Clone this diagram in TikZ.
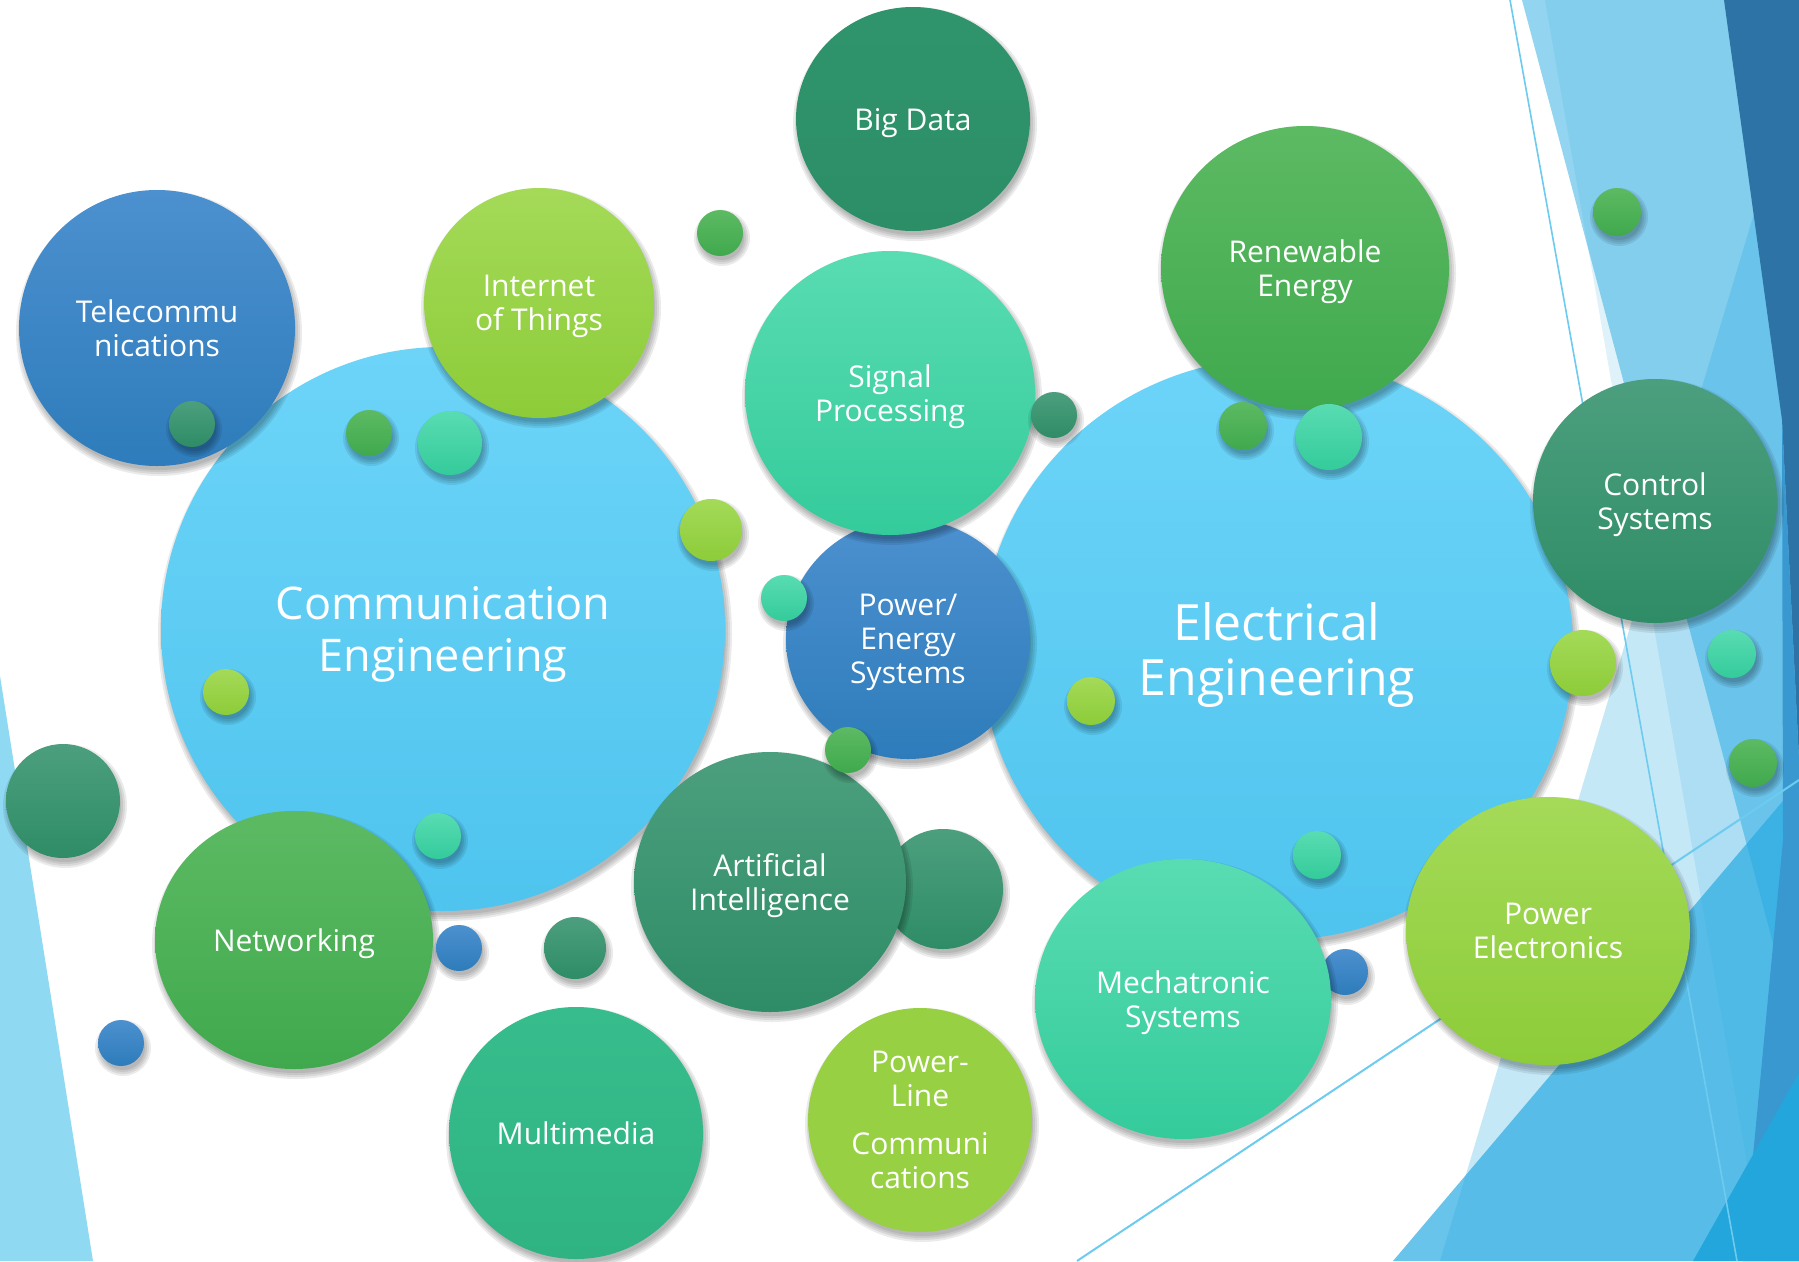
\documentclass[tikz,border=0pt]{standalone}
\usepackage{fontspec}
\setmainfont{Open Sans}
\usetikzlibrary{shapes.geometric}
\definecolor{cyanT}{HTML}{6DD4F8}
\definecolor{cyanB}{HTML}{4EC4EE}
\definecolor{blueT}{HTML}{4C90CF}
\definecolor{blueB}{HTML}{2E7CBB}
\definecolor{lgT}{HTML}{A4DA58}
\definecolor{lgB}{HTML}{8DCC39}
\definecolor{gT}{HTML}{5CBA63}
\definecolor{gB}{HTML}{40A94D}
\definecolor{dgT}{HTML}{4C9F7E}
\definecolor{dgB}{HTML}{2E8C66}
\definecolor{tT}{HTML}{59DCB2}
\definecolor{tB}{HTML}{34CB9B}
\definecolor{mmT}{HTML}{37BD8D}
\definecolor{mmB}{HTML}{2FB383}
\definecolor{bdT}{HTML}{2F946C}
\definecolor{bdB}{HTML}{2C8E67}
\definecolor{plc}{HTML}{97D042}
\definecolor{facet}{HTML}{29ABE2}
\definecolor{leftbg}{HTML}{8FD9F2}
\definecolor{darkbg}{HTML}{2E73A5}
\definecolor{midbg}{HTML}{3A98D0}
\definecolor{deepbg}{HTML}{22A6DC}
\definecolor{thinln}{HTML}{6CCBEF}
\tikzset{
  ball/.style={ellipse, inner sep=0pt, outer sep=0pt, draw=none, text=white,
    align=center, font=\fontsize{30}{34}\selectfont},
  cyanball/.style={ball, top color=cyanT, bottom color=cyanB},
  blueball/.style={ball, top color=blueT, bottom color=blueB},
  lgball/.style={ball, top color=lgT, bottom color=lgB},
  gball/.style={ball, top color=gT, bottom color=gB},
  dgball/.style={ball, top color=dgT, bottom color=dgB},
  tball/.style={ball, top color=tT, bottom color=tB},
  mmball/.style={ball, top color=mmT, bottom color=mmB},
  bdball/.style={ball, top color=bdT, bottom color=bdB},
  plball/.style={ball, fill=plc},
  bgtri/.style={draw=none},
}
\newcommand\nodepth[1]{\raisebox{0pt}[\height][0pt]{#1}}
\newcommand\mkball[7]{%
  \foreach \k in {-1,1,3,5}{\fill[black,opacity=.08] ({#2+2},{#3+5}) ellipse[x radius={#4+\k}, y radius={#5+\k}];}%
  \node[#6, minimum width={2*#4*1pt}, minimum height={2*#5*1pt}] (#1) at (#2,#3) {#7};}
\begin{document}
\begin{tikzpicture}[x=1pt,y=-1pt]
\useasboundingbox (0,0) rectangle (1799,1261);
\fill[white] (0,0) rectangle (1799,1261);
% background facets
\fill[bgtri, leftbg] (0,676) -- (93,1261) -- (0,1261) -- cycle;
\fill[bgtri, facet, fill opacity=.5] (1522,0) -- (1799,0) -- (1799,1041) -- cycle;
\fill[bgtri, facet, fill opacity=.15] (1545,0) -- (1799,0) -- (1799,1261) -- (1764,1261) -- cycle;
\fill[bgtri, facet, fill opacity=.27] (1818,0) -- (1440,1261) -- (1799,1261) -- (1799,0) -- cycle;
\fill[bgtri, facet, fill opacity=.7] (1393,1261) -- (1799,782) -- (1799,1261) -- cycle;
\fill[bgtri, darkbg] (1724,0) -- (1799,0) -- (1799,760) -- (1782,420) -- cycle;
\fill[bgtri, midbg] (1782,420) -- (1799,760) -- (1799,1261) -- (1743,1261) -- (1783,840) -- cycle;
\fill[bgtri, deepbg] (1693,1261) -- (1799,1073) -- (1799,1261) -- cycle;
\coordinate (la) at (1510,0); \coordinate (lb) at (1737,1261);
\coordinate (lc) at (1077,1261); \coordinate (ld) at (1799,780);
\draw[thinln, line width=1.6pt] (la) -- (lb);
\draw[thinln, line width=2pt] (lc) -- (ld);
% big circles
\mkball{comm}{443}{629}{282}{282}{cyanball, font=\fontsize{45}{52}\selectfont}{Communication\\\nodepth{Engineering}}
\mkball{elec}{1277}{649}{296}{291}{cyanball, font=\fontsize{50}{55}\selectfont}{Electrical\\\nodepth{Engineering}}
\mkball{lgreen}{63}{801}{57}{57}{dgball}{}
\mkball{tele}{157}{328}{138}{138}{blueball}{Telecommu\\\nodepth{nications}}
\mkball{iot}{539}{303}{115}{115}{lgball}{Internet\\\nodepth{of Things}}
\mkball{net}{294}{940}{139}{129}{gball}{\nodepth{Networking}}
\mkball{mm}{576}{1133}{127}{126}{mmball}{\nodepth{Multimedia}}
\mkball{bd}{913}{119}{117}{112}{bdball}{\nodepth{Big Data}}
\mkball{pes}{908}{639}{122}{120}{blueball}{Power/\\Energy\\\nodepth{Systems}}
\mkball{sp}{890}{393}{145}{142}{tball}{Signal\\\nodepth{Processing}}
\mkball{re}{1305}{268}{144}{142}{gball}{Renewable\\\nodepth{Energy}}
\mkball{cs}{1655}{501}{122}{122}{dgball}{Control\\\nodepth{Systems}}
\mkball{pe}{1548}{931}{142}{134}{lgball}{Power\\\nodepth{Electronics}}
\mkball{aib}{943}{889}{60}{60}{dgball}{}
\mkball{ai}{770}{882}{136}{130}{dgball}{Artificial\\\nodepth{Intelligence}}
\mkball{plc}{920}{1120}{112}{112}{plball}{Power-\\Line\\[14pt]Communi\\\nodepth{cations}}
\mkball{d22}{1345}{972}{23}{23}{blueball}{}
\mkball{mech}{1183}{999}{148}{140}{tball}{Mechatronic\\\nodepth{Systems}}
% small dots
\mkball{d1}{720}{233}{23}{23}{gball}{}
\mkball{d2}{192}{424}{23}{23}{dgball}{}
\mkball{d3}{369}{433}{23}{23}{gball}{}
\mkball{d4}{450}{443}{32}{32}{tball}{}
\mkball{d5}{711}{530}{31}{31}{lgball}{}
\mkball{d6}{784}{598}{23}{23}{tball}{}
\mkball{d7}{1054}{415}{23}{23}{dgball}{}
\mkball{d8}{1243}{426}{24}{24}{gball}{}
\mkball{d9}{1329}{437}{33}{33}{tball}{}
\mkball{d10}{1617}{212}{24}{24}{gball}{}
\mkball{d11}{1583}{663}{33}{33}{lgball}{}
\mkball{d12}{1732}{654}{24}{24}{tball}{}
\mkball{d13}{1753}{763}{24}{24}{gball}{}
\mkball{d14}{1091}{701}{24}{24}{lgball}{}
\mkball{d15}{848}{750}{23}{23}{gball}{}
\mkball{d16}{226}{692}{23}{23}{lgball}{}
\mkball{d17}{438}{836}{23}{23}{tball}{}
\mkball{d18}{459}{948}{23}{23}{blueball}{}
\mkball{d19}{575}{948}{31}{31}{dgball}{}
\mkball{d20}{121}{1043}{23}{23}{blueball}{}
\mkball{d21}{1317}{855}{24}{24}{tball}{}
\end{tikzpicture}
\end{document}
